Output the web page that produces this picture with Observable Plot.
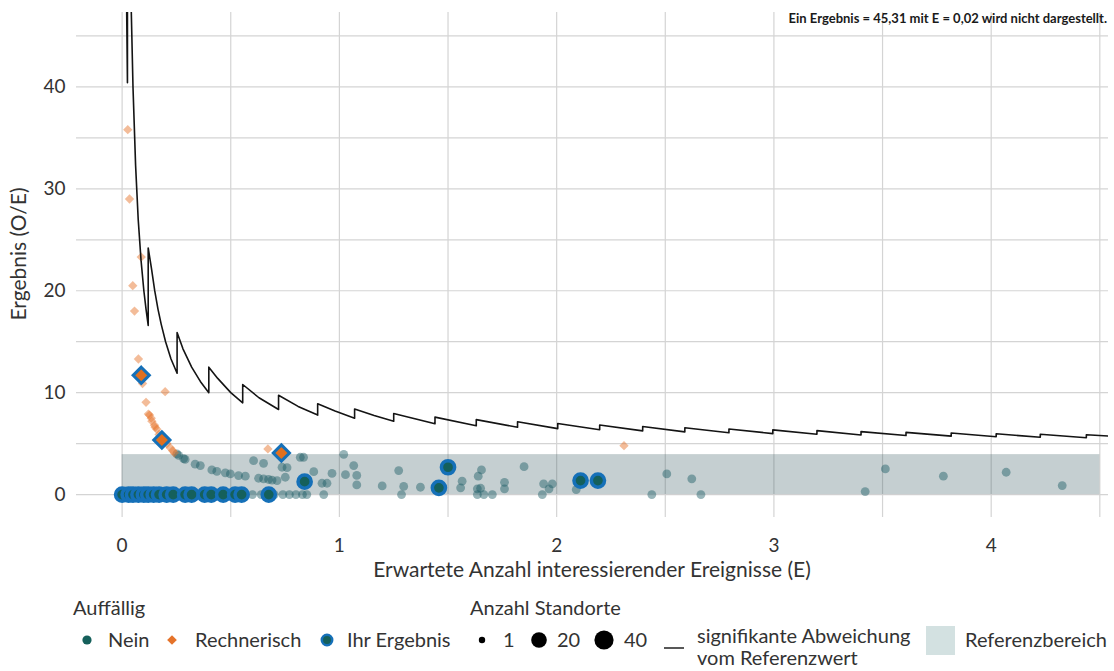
<!DOCTYPE html>
<html><head><meta charset="utf-8">
<script src="https://cdn.jsdelivr.net/npm/d3@7"></script>
<script src="https://cdn.jsdelivr.net/npm/@observablehq/plot@0.6"></script>
<style>
html,body{margin:0;padding:0;background:#fff;}
#wrap{width:1114px;height:671px;position:relative;font-family:Lato,"Noto Sans",sans-serif;}
</style></head>
<body><div id="wrap"></div>
<script>
// ---- data ----
const xTicks = [0, 1, 2, 3, 4];
const yTicks = [0, 10, 20, 30, 40];
const gridX = [0, 0.5, 1, 1.5, 2, 2.5, 3, 3.5, 4, 4.5];
const gridY = [0, 5, 10, 15, 20, 25, 30, 35, 40, 45];
const bandE = [0, 4.5];
const bandV = [0, 3.92];

// significance boundary (E, O/E)
const sigE = [0.021,0.0245,0.0245,0.03,0.035,0.041,0.05,0.062,0.074,0.087,0.1,0.11,0.12,
  0.12,0.135,0.15,0.165,0.18,0.2,0.225,0.253,
  0.253,0.28,0.32,0.36,0.399,
  0.399,0.44,0.5,0.555,
  0.555,0.63,0.72,
  0.72,0.81,0.9,
  0.9,0.98,1.07,
  1.07,1.16,1.25,
  1.25,1.44,
  1.44,1.63,
  1.63,1.82,
  1.82,2.005,
  2.005,2.198,
  2.198,2.396,
  2.396,2.59,
  2.59,2.793,
  2.793,2.995,
  2.995,3.198,
  3.198,3.401,
  3.401,3.608,
  3.608,3.816,
  3.816,4.023,
  4.023,4.226,
  4.226,4.438,
  4.438,4.544];
const sigV = [47.3,40.4,81,66,57,48.5,40,32.3,27,23,20,18.2,16.6,
  24.2,22.2,20,18.2,16.7,15,13.3,11.9,
  15.9,14.3,12.5,11.1,10.0,
  12.5,11.4,10.0,9.0,
  10.8,9.5,8.35,
  9.75,8.65,7.8,
  8.9,8.2,7.5,
  8.4,7.75,7.2,
  7.95,6.95,
  7.6,6.75,
  7.35,6.6,
  7.15,6.47,
  6.98,6.36,
  6.82,6.25,
  6.68,6.15,
  6.55,6.06,
  6.44,5.98,
  6.35,5.92,
  6.27,5.85,
  6.18,5.79,
  6.1,5.73,
  6.04,5.67,
  5.97,5.62,
  5.92,5.57,
  5.87,5.74];

// Auffällig = Nein
const neinE = [0.02,0.06,0.09,0.13,0.18,0.22,0.26,0.3,0.35,0.4,0.44,0.49,0.54,0.6,0.64,0.67,0.7,0.74,0.77,0.8,0.83,0.85,0.928,1.286,1.635,1.665,1.704,1.934,2.438,2.664,
  0.252,0.26,0.283,0.29,0.336,0.36,0.413,0.436,0.475,0.498,0.536,0.567,0.605,0.651,0.628,0.651,0.674,0.69,0.713,0.736,0.759,0.751,0.82,0.835,0.882,0.92,0.943,0.966,1.02,1.028,1.066,1.08,1.08,1.197,1.273,1.296,1.373,1.565,1.558,1.639,1.654,1.635,1.65,1.76,1.76,1.85,1.94,1.98,1.965,2.09,2.507,2.622,3.42,3.513,3.78,4.069,4.327];
const neinV = [0,0,0,0,0,0,0,0,0,0,0,0,0,0,0,0,0,0,0,0,0,0,0,0,0,0,0,0,0,0,
  3.99,3.85,3.53,3.45,2.98,2.84,2.42,2.28,2.13,2.03,1.86,1.8,3.33,3.07,1.6,1.54,1.48,1.42,1.37,2.68,2.64,1.7,3.66,3.66,2.25,1.11,1.11,2.07,3.95,1.95,2.84,1.88,0.95,0.85,2.35,0.8,0.72,1.31,0.66,1.8,2.42,0.56,0.62,1.2,0.56,2.74,1.05,1.05,0.56,0.49,2.03,1.54,0.29,2.52,1.8,2.19,0.88];

// Auffällig = Rechnerisch
const rechE = [0.026,0.034,0.088,0.049,0.057,0.075,0.094,0.198,0.11,0.121,0.126,0.134,0.137,0.149,0.152,0.16,0.17,0.206,0.221,0.233,0.24,0.671,2.31];
const rechV = [35.8,29.0,23.3,20.5,18.0,13.3,10.9,10.1,9.05,7.9,7.8,7.5,7.2,6.8,6.6,6.4,5.9,5.0,4.6,4.3,4.1,4.48,4.8];

// Ihr Ergebnis (unauffällig)
const ihrE = [0.0,0.03,0.05,0.075,0.1,0.12,0.145,0.17,0.205,0.235,0.29,0.32,0.38,0.41,0.465,0.52,0.55,0.675,0.84,1.458,1.50,2.11,2.19];
const ihrV = [0,0,0,0,0,0,0,0,0,0,0,0,0,0,0,0,0,0,1.27,0.66,2.68,1.37,1.37];

// Ihr Ergebnis (rechnerisch auffällig)
const ihrRechE = [0.088,0.183,0.733];
const ihrRechV = [11.7,5.36,4.08];

const xLabel = "Erwartete Anzahl interessierender Ereignisse (E)";
const yLabel = "Ergebnis (O/E)";
const note = "Ein Ergebnis = 45,31 mit E = 0,02 wird nicht dargestellt.";

// ---- build ----
const pts = (E, V) => E.map((e, i) => ({E: e, V: V[i]}));
const TEAL = "#15605b", TEAL_PT = "#1a5c63", ORANGE = "#e5732a", BLUE = "#1570b8";

const chart = Plot.plot({
  width: 1114, height: 590,
  marginLeft: 76, marginRight: 6, marginTop: 12, marginBottom: 73,
  style: {fontFamily: "Lato, sans-serif", fontSize: "19px", color: "#333", background: "white"},
  x: {domain: [-0.21, 4.54]},
  y: {domain: [-2.25, 47.3]},
  marks: [
    Plot.ruleX(gridX, {stroke: "#d4d4d4", strokeWidth: 1.2}),
    Plot.ruleY(gridY, {stroke: "#d4d4d4", strokeWidth: 1.2}),
    Plot.rect([{x1: bandE[0], x2: bandE[1], y1: bandV[0], y2: bandV[1]}],
      {x1: "x1", x2: "x2", y1: "y1", y2: "y2", fill: "#365a60", fillOpacity: 0.29}),
    Plot.dot(pts(neinE, neinV), {x: "E", y: "V", r: 4.4, fill: TEAL_PT, fillOpacity: 0.45}),
    Plot.dot(pts(rechE, rechV), {x: "E", y: "V", r: 4.2, symbol: "diamond2", fill: ORANGE, fillOpacity: 0.48}),
    Plot.dot(pts(ihrE, ihrV), {x: "E", y: "V", r: 6.6, fill: TEAL, stroke: BLUE, strokeWidth: 3.5}),
    Plot.dot(pts(ihrRechE, ihrRechV), {x: "E", y: "V", r: 7.3, symbol: "diamond2", fill: "#e0701f", stroke: BLUE, strokeWidth: 3}),
    Plot.line(pts(sigE, sigV), {x: "E", y: "V", stroke: "#141414", strokeWidth: 1.6, clip: true}),
    Plot.axisX({ticks: xTicks, tickSize: 0, tickPadding: 21, label: null, tickFormat: d => String(d)}),
    Plot.axisY({ticks: yTicks, tickSize: 0, tickPadding: 11, label: null, tickFormat: d => String(d)})
  ]
});
document.getElementById("wrap").appendChild(chart);

const svg = d3.select(chart);
svg.append("text").attr("x", 592).attr("y", 570).attr("dy", "0.35em")
  .attr("text-anchor", "middle").attr("fill", "#333").style("font-size", "21px").text(xLabel);
svg.append("text").attr("transform", "translate(19,254) rotate(-90)").attr("dy", "0.35em")
  .attr("text-anchor", "middle").attr("fill", "#333").style("font-size", "21px").text(yLabel);
svg.append("text").attr("x", 1107).attr("y", 18).attr("dy", "0.35em")
  .attr("text-anchor", "end").attr("fill", "#1a1a1a").style("font-size", "13px").style("font-weight", "bold").text(note);

// ---- legend ----
const leg = d3.select("#wrap").append("svg").attr("width", 1114).attr("height", 81)
  .style("display", "block").style("font-family", "Lato, sans-serif").style("font-size", "20px");
const T = (x, y, s) => leg.append("text").attr("x", x).attr("y", y).attr("dy", "0.35em").attr("fill", "#333").text(s);
const rowY = 50;
T(73, 18, "Auffällig");
T(470, 18, "Anzahl Standorte");
leg.append("circle").attr("cx", 87).attr("cy", rowY).attr("r", 4.6).attr("fill", TEAL);
T(108, rowY, "Nein");
leg.append("path").attr("d", d3.symbol(d3.symbolDiamond2, 60)()).attr("transform", `translate(172,${rowY})`).attr("fill", ORANGE);
T(195, rowY, "Rechnerisch");
leg.append("circle").attr("cx", 327).attr("cy", rowY).attr("r", 5.2).attr("fill", TEAL).attr("stroke", BLUE).attr("stroke-width", 2.5);
T(347, rowY, "Ihr Ergebnis");
leg.append("circle").attr("cx", 482).attr("cy", rowY).attr("r", 3.2).attr("fill", "#000");
T(503, rowY, "1");
leg.append("circle").attr("cx", 539).attr("cy", rowY).attr("r", 7.8).attr("fill", "#000");
T(557, rowY, "20");
leg.append("circle").attr("cx", 604).attr("cy", rowY).attr("r", 9.6).attr("fill", "#000");
T(624, rowY, "40");
leg.append("line").attr("x1", 664).attr("x2", 684).attr("y1", 58).attr("y2", 58).attr("stroke", "#111").attr("stroke-width", 1.4);
T(697, 46, "signifikante Abweichung");
T(697, 68, "vom Referenzwert");
leg.append("rect").attr("x", 926).attr("y", 36).attr("width", 29).attr("height", 29).attr("fill", "#d3e1e1");
T(965, rowY, "Referenzbereich");
</script></body></html>
